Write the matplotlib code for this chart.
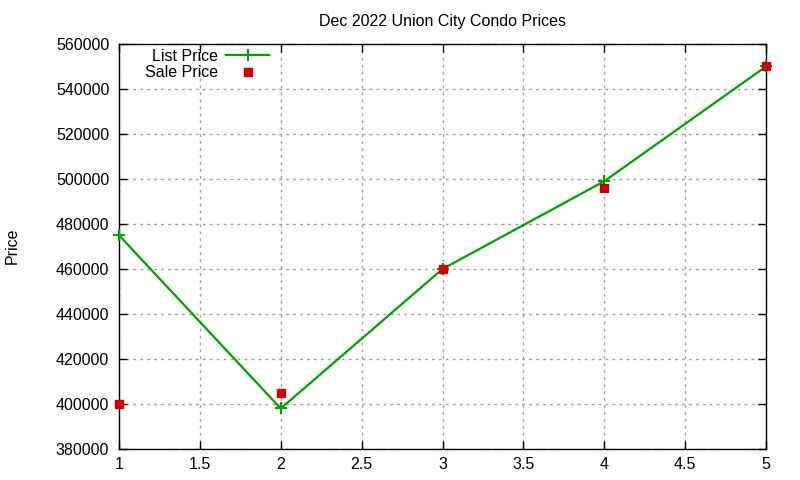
import matplotlib
matplotlib.use("Agg")
import matplotlib.pyplot as plt

plt.rcParams["font.family"] = ["Liberation Sans", "DejaVu Sans"]
plt.rcParams["font.size"] = 11.5

x_vals = [1, 2, 3, 4, 5]
x_ticks = [1, 1.5, 2, 2.5, 3, 3.5, 4, 4.5, 5]
x_tick_labels = ["1", "1.5", "2", "2.5", "3", "3.5", "4", "4.5", "5"]
y_ticks = list(range(380000, 560001, 20000))
list_price = [475000, 398000, 460000, 499000, 550000]
sale_price = [400000, 405000, 460000, 496000, 550000]

fig = plt.figure(figsize=(8, 4.8), dpi=100)
ax = fig.add_axes([119 / 800, 1 - 449 / 480, (766 - 119) / 800, (449 - 44) / 480])

ax.plot(x_vals, list_price, color="#00a000", lw=1.6, marker="+", ms=8, mew=1.5,
        label="List Price", clip_on=False, zorder=3)
ax.plot(x_vals, sale_price, ls="none", color="#cc0000", marker="s", ms=6,
        label="Sale Price", clip_on=False, zorder=4)

ax.set_xlim(1, 5)
ax.set_ylim(380000, 560000)
ax.set_xticks(x_ticks)
ax.set_xticklabels(x_tick_labels)
ax.set_yticks(y_ticks)
ax.set_yticklabels([str(v) for v in y_ticks])

ax.tick_params(direction="in", top=True, right=True, length=6, width=1, colors="black")
ax.tick_params(axis="x", pad=6)
ax.tick_params(axis="y", pad=7)
ax.grid(True, color="#a0a0a0", ls=(0, (2, 3)), lw=1)
for s in ax.spines.values():
    s.set_linewidth(1)

ax.set_title("Dec 2022 Union City Condo Prices", fontsize=11.5, pad=13)
fig.text(12 / 800, 1 - 246 / 480, "Price", rotation=90, va="center", ha="center")

leg = ax.legend(loc="upper left", bbox_to_anchor=(145 / 800, 1 - 49 / 480),
                bbox_transform=fig.transFigure, frameon=False,
                markerfirst=False, handlelength=2.7, borderaxespad=0, borderpad=0,
                labelspacing=0.08, handletextpad=0.5)
for t in leg.get_texts():
    t.set_ha("right")

fig.savefig("out.png", dpi=100)
